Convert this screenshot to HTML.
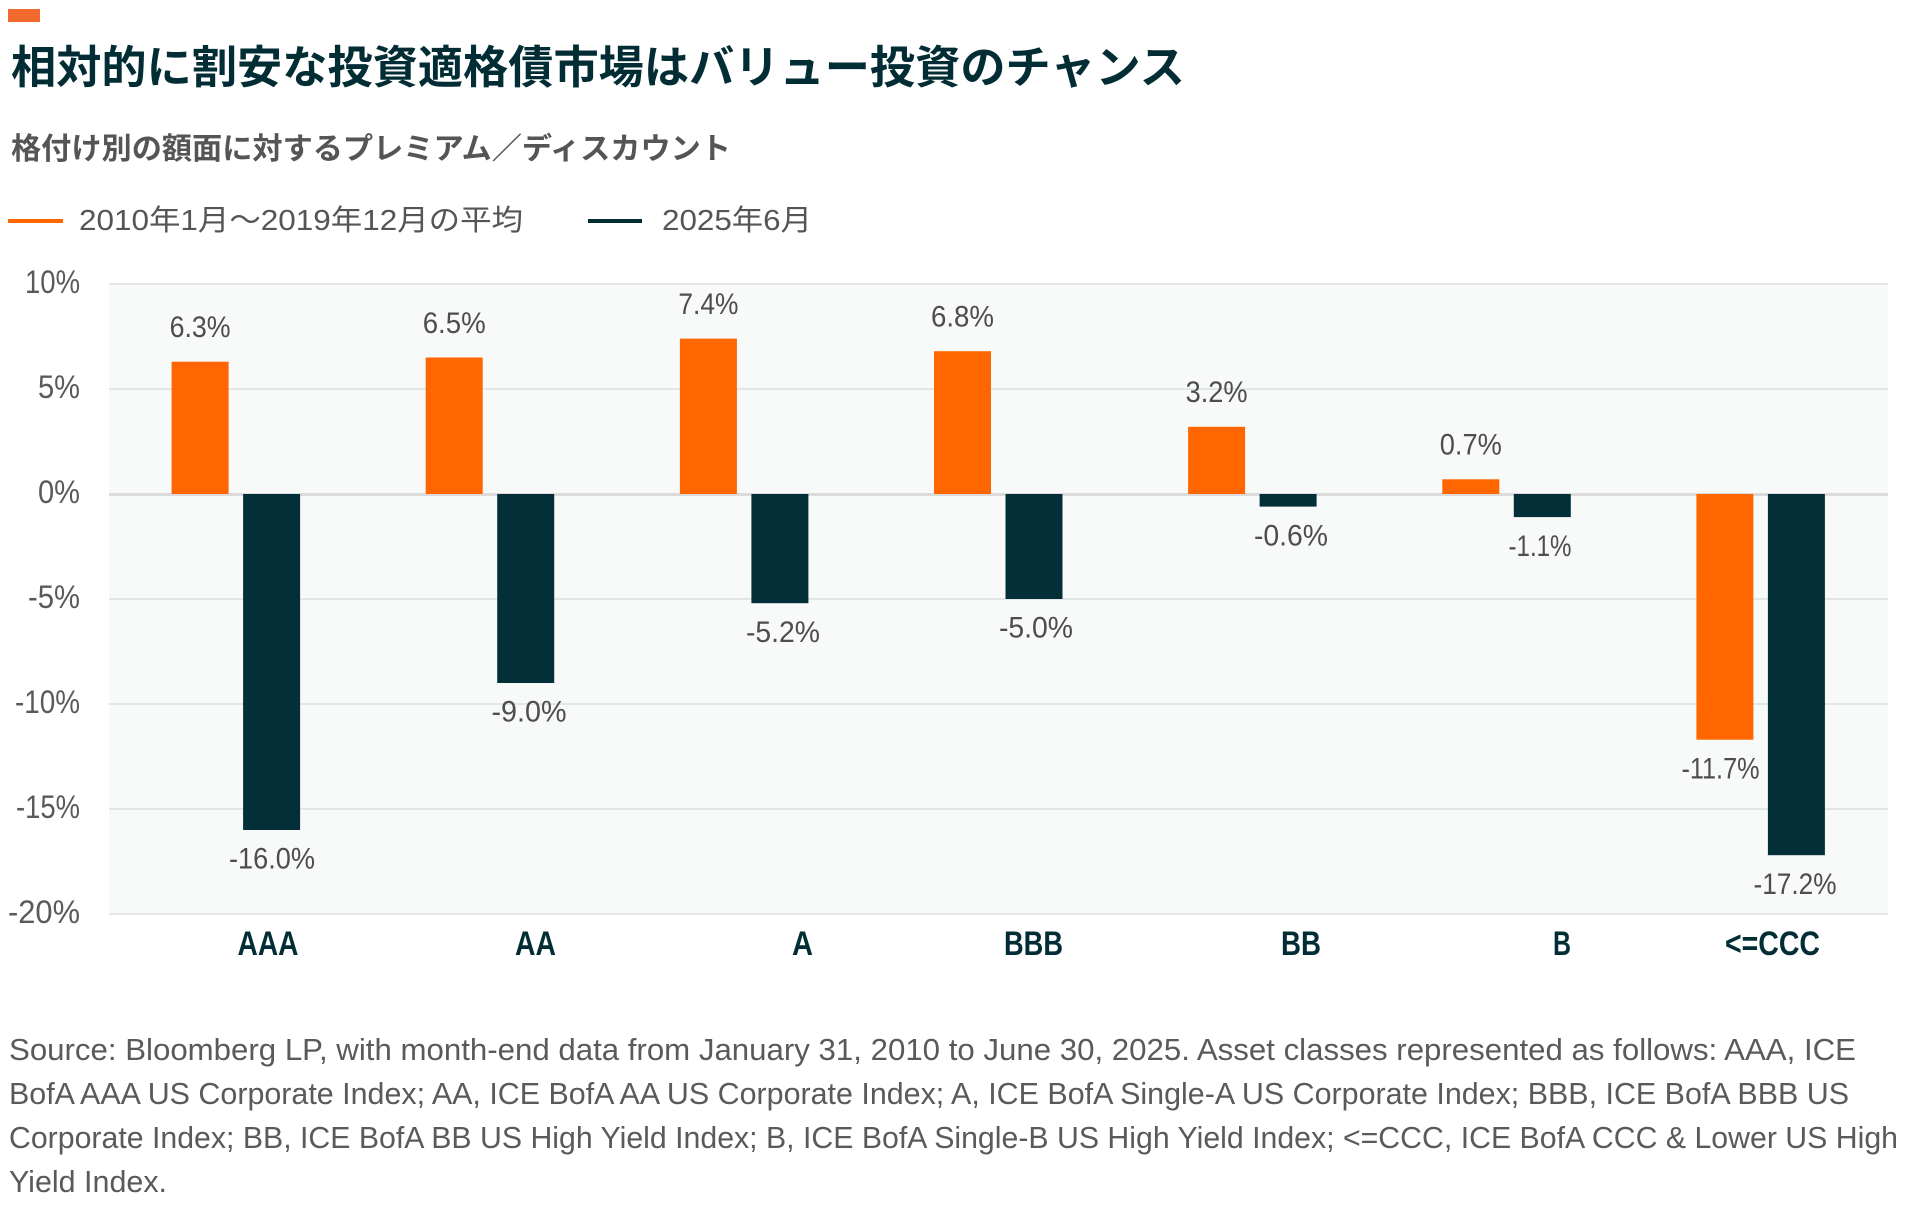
<!DOCTYPE html>
<html lang="ja">
<head>
<meta charset="utf-8">
<style>
  html,body{margin:0;padding:0;background:#ffffff;}
  body{width:1920px;height:1210px;overflow:hidden;}
  svg{display:block;}
  .lab{font-family:"Liberation Sans","Noto Sans CJK JP",sans-serif;}
</style>
</head>
<body>
<svg width="1920" height="1210" viewBox="0 0 1920 1210" xmlns="http://www.w3.org/2000/svg">
  <rect x="0" y="0" width="1920" height="1210" fill="#ffffff"/>

  <!-- accent square -->
  <rect x="8" y="9" width="32" height="13" fill="#f26a2e"/>

  <!-- title -->
  <text class="lab" x="11" y="83" font-size="45" font-weight="700" fill="#032d35" textLength="1174" lengthAdjust="spacingAndGlyphs">相対的に割安な投資適格債市場はバリュー投資のチャンス</text>

  <!-- subtitle -->
  <text class="lab" x="11" y="159" font-size="30" font-weight="700" fill="#555555" textLength="720" lengthAdjust="spacingAndGlyphs">格付け別の額面に対するプレミアム／ディスカウント</text>

  <!-- legend -->
  <rect x="8" y="219" width="55" height="4" fill="#ff6600"/>
  <text class="lab" x="79" y="230" font-size="29" fill="#555555" textLength="444" lengthAdjust="spacingAndGlyphs">2010年1月～2019年12月の平均</text>
  <rect x="588" y="219" width="54" height="4" fill="#032d35"/>
  <text class="lab" x="662" y="230" font-size="29" fill="#555555" textLength="150" lengthAdjust="spacingAndGlyphs">2025年6月</text>

  <!-- plot background -->
  <rect x="109" y="284" width="1779" height="630" fill="#f8f9f9"/>

  <!-- gridlines -->
  <g stroke="#e3e6e7" stroke-width="2">
    <line x1="109" y1="284" x2="1888" y2="284"/>
    <line x1="109" y1="389" x2="1888" y2="389"/>
    <line x1="109" y1="599" x2="1888" y2="599"/>
    <line x1="109" y1="704" x2="1888" y2="704"/>
    <line x1="109" y1="809" x2="1888" y2="809"/>
    <line x1="109" y1="914" x2="1888" y2="914"/>
  </g>
  <line x1="109" y1="494.5" x2="1888" y2="494.5" stroke="#dcdadb" stroke-width="3"/>

  <!-- y axis labels -->
  <g class="lab" font-size="32" fill="#5a5a5a" text-anchor="end">
    <text x="80" y="293" textLength="55" lengthAdjust="spacingAndGlyphs">10%</text>
    <text x="80" y="398" textLength="42" lengthAdjust="spacingAndGlyphs">5%</text>
    <text x="80" y="503" textLength="42" lengthAdjust="spacingAndGlyphs">0%</text>
    <text x="80" y="608" textLength="52" lengthAdjust="spacingAndGlyphs">-5%</text>
    <text x="80" y="713" textLength="65" lengthAdjust="spacingAndGlyphs">-10%</text>
    <text x="80" y="818" textLength="64" lengthAdjust="spacingAndGlyphs">-15%</text>
    <text x="80" y="923" textLength="72" lengthAdjust="spacingAndGlyphs">-20%</text>
  </g>

  <!-- orange bars -->
  <g fill="#ff6600">
    <rect x="171.6" y="361.7" width="57" height="132.3"/>
    <rect x="425.7" y="357.5" width="57" height="136.5"/>
    <rect x="679.9" y="338.6" width="57" height="155.4"/>
    <rect x="934.0" y="351.2" width="57" height="142.8"/>
    <rect x="1188.1" y="426.8" width="57" height="67.2"/>
    <rect x="1442.3" y="479.3" width="57" height="14.7"/>
    <rect x="1696.4" y="494" width="57" height="245.7"/>
  </g>

  <!-- dark bars -->
  <g fill="#022f38">
    <rect x="243.1" y="494" width="57" height="336"/>
    <rect x="497.2" y="494" width="57" height="189"/>
    <rect x="751.4" y="494" width="57" height="109.2"/>
    <rect x="1005.5" y="494" width="57" height="105"/>
    <rect x="1259.6" y="494" width="57" height="12.6"/>
    <rect x="1513.8" y="494" width="57" height="23.1"/>
    <rect x="1767.9" y="494" width="57" height="361.2"/>
  </g>

  <!-- data labels -->
  <g class="lab" font-size="30" fill="#4d4d4d" text-anchor="middle">
    <text x="200.1" y="337" textLength="61" lengthAdjust="spacingAndGlyphs">6.3%</text>
    <text x="454.2" y="332.8" textLength="63" lengthAdjust="spacingAndGlyphs">6.5%</text>
    <text x="708.4" y="313.9" textLength="60" lengthAdjust="spacingAndGlyphs">7.4%</text>
    <text x="962.5" y="326.5" textLength="63" lengthAdjust="spacingAndGlyphs">6.8%</text>
    <text x="1216.6" y="402.1" textLength="62" lengthAdjust="spacingAndGlyphs">3.2%</text>
    <text x="1470.8" y="454.6" textLength="62" lengthAdjust="spacingAndGlyphs">0.7%</text>
    <text x="1720.5" y="778.4" textLength="78" lengthAdjust="spacingAndGlyphs">-11.7%</text>

    <text x="272" y="868.7" textLength="86" lengthAdjust="spacingAndGlyphs">-16.0%</text>
    <text x="529" y="721.7" textLength="75" lengthAdjust="spacingAndGlyphs">-9.0%</text>
    <text x="783" y="641.9" textLength="74" lengthAdjust="spacingAndGlyphs">-5.2%</text>
    <text x="1036" y="637.7" textLength="74" lengthAdjust="spacingAndGlyphs">-5.0%</text>
    <text x="1291" y="545.3" textLength="74" lengthAdjust="spacingAndGlyphs">-0.6%</text>
    <text x="1540" y="555.8" textLength="63" lengthAdjust="spacingAndGlyphs">-1.1%</text>
    <text x="1795" y="893.9" textLength="83" lengthAdjust="spacingAndGlyphs">-17.2%</text>
  </g>

  <!-- category labels -->
  <g class="lab" font-size="34" font-weight="700" fill="#032d35" text-anchor="middle">
    <text x="268" y="955" textLength="61" lengthAdjust="spacingAndGlyphs">AAA</text>
    <text x="535.5" y="955" textLength="41" lengthAdjust="spacingAndGlyphs">AA</text>
    <text x="802.5" y="955" textLength="21" lengthAdjust="spacingAndGlyphs">A</text>
    <text x="1033.5" y="955" textLength="59" lengthAdjust="spacingAndGlyphs">BBB</text>
    <text x="1301" y="955" textLength="40" lengthAdjust="spacingAndGlyphs">BB</text>
    <text x="1562" y="955" textLength="18" lengthAdjust="spacingAndGlyphs">B</text>
    <text x="1772.5" y="955" textLength="95" lengthAdjust="spacingAndGlyphs">&lt;=CCC</text>
  </g>

  <!-- footer -->
  <g class="lab" font-size="31" fill="#5a5a5a">
    <text x="9" y="1060" textLength="1847" lengthAdjust="spacingAndGlyphs">Source: Bloomberg LP, with month-end data from January 31, 2010 to June 30, 2025. Asset classes represented as follows: AAA, ICE</text>
    <text x="9" y="1104" textLength="1840" lengthAdjust="spacingAndGlyphs">BofA AAA US Corporate Index; AA, ICE BofA AA US Corporate Index; A, ICE BofA Single-A US Corporate Index; BBB, ICE BofA BBB US</text>
    <text x="9" y="1148" textLength="1889" lengthAdjust="spacingAndGlyphs">Corporate Index; BB, ICE BofA BB US High Yield Index; B, ICE BofA Single-B US High Yield Index; &lt;=CCC, ICE BofA CCC &amp; Lower US High</text>
    <text x="9" y="1192" textLength="158" lengthAdjust="spacingAndGlyphs">Yield Index.</text>
  </g>
</svg>
</body>
</html>
